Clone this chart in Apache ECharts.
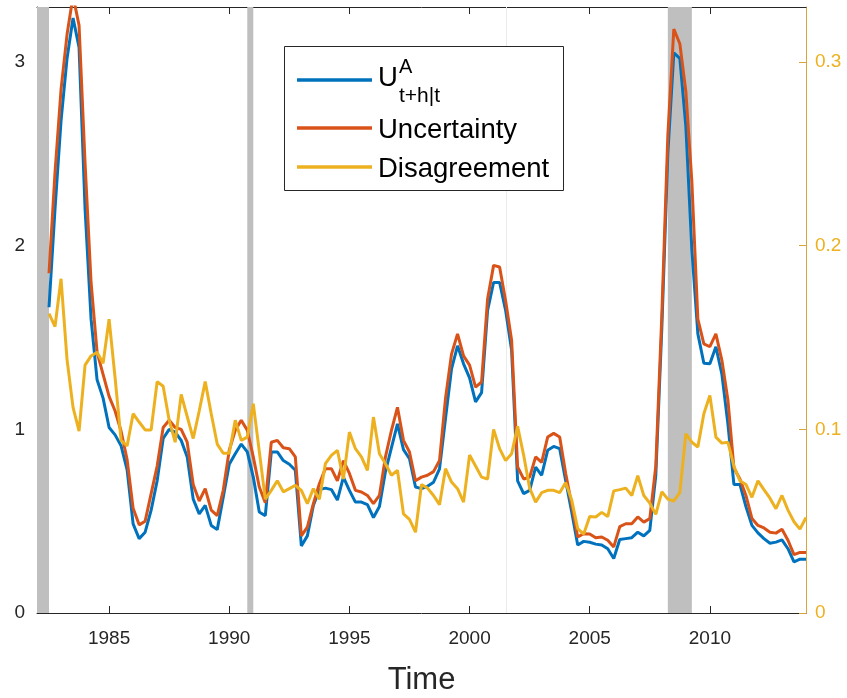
<!DOCTYPE html>
<html><head><meta charset="utf-8">
<script src="https://cdn.jsdelivr.net/npm/echarts@6/dist/echarts.min.js"></script>
<style>html,body{margin:0;padding:0;background:#fff}#c{width:847px;height:698px}</style>
</head><body><div id="c"></div>
<script>
const startQuarter = 1982.5;
const uA = [
 1.665, 2.20, 2.68, 3.02, 3.24, 3.08, 2.20, 1.60, 1.27, 1.17,
 1.01, 0.97, 0.91, 0.78, 0.485, 0.405, 0.44, 0.56, 0.72, 0.95,
 1.00, 0.985, 0.94, 0.85, 0.62, 0.54, 0.586, 0.477, 0.454, 0.63,
 0.81, 0.867, 0.92, 0.877, 0.74, 0.55, 0.53, 0.877, 0.877, 0.83,
 0.81, 0.777, 0.365, 0.42, 0.585, 0.672, 0.68, 0.672, 0.615, 0.74,
 0.668, 0.604, 0.604, 0.59, 0.52, 0.58, 0.77, 0.90, 1.03, 0.89,
 0.84, 0.686, 0.677, 0.69, 0.712, 0.785, 1.06, 1.33, 1.455, 1.357,
 1.28, 1.15, 1.20, 1.648, 1.80, 1.80, 1.648, 1.43, 0.72, 0.65,
 0.668, 0.795, 0.75, 0.886, 0.907, 0.895, 0.72, 0.55, 0.37, 0.39,
 0.385, 0.375, 0.37, 0.35, 0.297, 0.40, 0.405, 0.41, 0.44, 0.42,
 0.45, 0.75, 1.55, 2.50, 3.05, 3.02, 2.65, 1.98, 1.52, 1.36,
 1.357, 1.45, 1.30, 1.03, 0.70, 0.70, 0.58, 0.477, 0.436, 0.405,
 0.38, 0.386, 0.398, 0.35, 0.278, 0.293, 0.293
];
const uncertainty = [
 1.85, 2.40, 2.85, 3.15, 3.36, 3.20, 2.45, 1.80, 1.42, 1.30,
 1.18, 1.10, 0.99, 0.835, 0.57, 0.48, 0.50, 0.65, 0.80, 1.01,
 1.05, 1.01, 1.00, 0.93, 0.70, 0.61, 0.677, 0.56, 0.53, 0.668,
 0.886, 0.995, 1.05, 0.995, 0.85, 0.686, 0.60, 0.93, 0.94, 0.90,
 0.895, 0.85, 0.42, 0.468, 0.595, 0.704, 0.786, 0.786, 0.72, 0.83,
 0.76, 0.668, 0.659, 0.64, 0.595, 0.64, 0.85, 0.995, 1.12, 0.94,
 0.877, 0.72, 0.74, 0.75, 0.77, 0.83, 1.17, 1.41, 1.52, 1.40,
 1.35, 1.23, 1.258, 1.71, 1.893, 1.884, 1.70, 1.485, 0.795, 0.73,
 0.74, 0.85, 0.82, 0.958, 0.978, 0.958, 0.76, 0.59, 0.414, 0.432,
 0.43, 0.41, 0.414, 0.396, 0.36, 0.47, 0.486, 0.486, 0.523, 0.495,
 0.514, 0.80, 1.62, 2.60, 3.18, 3.10, 2.84, 2.35, 1.60, 1.466,
 1.45, 1.52, 1.376, 1.16, 0.79, 0.73, 0.64, 0.515, 0.477, 0.463,
 0.44, 0.435, 0.456, 0.396, 0.318, 0.33, 0.33
];
const disagreement = [
 0.163, 0.156, 0.182, 0.138, 0.112, 0.099, 0.135, 0.140, 0.142, 0.136,
 0.160, 0.128, 0.094, 0.091, 0.1085, 0.104, 0.0997, 0.0997, 0.126, 0.1235,
 0.105, 0.093, 0.119, 0.107, 0.095, 0.110, 0.126, 0.1085, 0.092, 0.087,
 0.087, 0.105, 0.094, 0.0958, 0.114, 0.088, 0.062, 0.0668, 0.072, 0.066,
 0.0677, 0.0695, 0.0668, 0.0595, 0.0677, 0.062, 0.0813, 0.0858, 0.0886, 0.073,
 0.0985, 0.0895, 0.085, 0.0777, 0.1067, 0.0867, 0.0813, 0.075, 0.0777, 0.054,
 0.051, 0.044, 0.070, 0.068, 0.064, 0.059, 0.0786, 0.0713, 0.0677, 0.0604,
 0.086, 0.080, 0.074, 0.073, 0.100, 0.0895, 0.083, 0.0867, 0.1016, 0.086,
 0.068, 0.0604, 0.0655, 0.0668, 0.0668, 0.0655, 0.071, 0.0615, 0.046, 0.043,
 0.0525, 0.0523, 0.0548, 0.0525, 0.0665, 0.0672, 0.068, 0.064, 0.0748, 0.064,
 0.0598, 0.0537, 0.066, 0.062, 0.061, 0.0655, 0.0976, 0.093, 0.0904, 0.1085,
 0.1185, 0.0958, 0.0925, 0.093, 0.080, 0.072, 0.070, 0.063, 0.072, 0.0672,
 0.0625, 0.0568, 0.064, 0.056, 0.0497, 0.0457, 0.052
];
const xTicks = [1985, 1990, 1995, 2000, 2005, 2010];
const leftTicks = [0, 1, 2, 3];
const rightTicks = [0, 0.1, 0.2, 0.3];
const recessions = [[1982.0, 1982.5], [1990.75, 1991.0], [2008.25, 2009.25]];
const faintLine = 2001.53;
const seriesNames = ['U', 'Uncertainty', 'Disagreement'];

const dates = uA.map((_, i) => startQuarter + i * 0.25);
const pair = arr => arr.map((v, i) => [dates[i], v]);

const FONT = 'Liberation Sans, Arial, Helvetica, sans-serif';
const DARK = '#262626';
const BLUE = '#0072BD', RED = '#D95319', YEL = '#EDB120';

const chart = echarts.init(document.getElementById('c'), null, {renderer: 'canvas'});
chart.setOption({
  animation: false,
  backgroundColor: '#ffffff',
  textStyle: {fontFamily: FONT},
  grid: {left: 37, right: 41, top: 7, bottom: 85, containLabel: false, outerBoundsMode: 'none'},
  xAxis: [{
    type: 'value', min: 1982, max: 2014, position: 'bottom',
    axisLine: {onZero: false, lineStyle: {color: DARK, width: 1}},
    axisTick: {inside: true, length: 7, customValues: xTicks, lineStyle: {color: DARK}},
    axisLabel: {customValues: xTicks, fontSize: 19, color: DARK, margin: 16, fontFamily: FONT,
      formatter: v => String(v)},
    splitLine: {show: false},
    name: 'Time', nameLocation: 'middle', nameGap: 52,
    nameTextStyle: {fontSize: 31, color: DARK, fontFamily: FONT}
  }, {
    type: 'value', min: 1982, max: 2014, position: 'top',
    axisLine: {onZero: false, lineStyle: {color: DARK, width: 1}},
    axisTick: {inside: true, length: 7, customValues: xTicks, lineStyle: {color: DARK}},
    axisLabel: {show: false},
    splitLine: {show: false}
  }],
  yAxis: [{
    type: 'value', min: 0, max: 3.3, position: 'left',
    axisLine: {show: true, onZero: false, lineStyle: {color: DARK, width: 1}},
    axisTick: {show: true, inside: true, length: 7, customValues: leftTicks, lineStyle: {color: DARK}},
    axisLabel: {customValues: leftTicks, fontSize: 19, color: DARK, margin: 12, fontFamily: FONT,
      formatter: v => String(v)},
    splitLine: {show: false}
  }, {
    type: 'value', min: 0, max: 0.33, position: 'right',
    axisLine: {show: true, onZero: false, lineStyle: {color: '#D9A53A', width: 1}},
    axisTick: {show: true, inside: true, length: 7, customValues: rightTicks, lineStyle: {color: '#D9A53A'}},
    axisLabel: {customValues: rightTicks, fontSize: 19, color: YEL, margin: 9, fontFamily: FONT,
      formatter: v => String(Math.round(v * 10) / 10)},
    splitLine: {show: false}
  }],
  series: [{
    name: 'recessions', type: 'line', xAxisIndex: 0, yAxisIndex: 0,
    data: [[1982, -1]], symbol: 'none', silent: true, z: 1,
    lineStyle: {opacity: 0},
    markArea: {silent: true, z: 1, itemStyle: {color: '#BFBFBF', opacity: 1},
      data: recessions.map(r => [{xAxis: r[0]}, {xAxis: r[1]}])},
    markLine: {silent: true, z: 1, symbol: 'none', label: {show: false},
      lineStyle: {color: '#EBEBEB', width: 1, type: 'solid'},
      data: [{xAxis: faintLine}]}
  }, {
    name: seriesNames[0], type: 'line', xAxisIndex: 0, yAxisIndex: 0,
    data: pair(uA), symbol: 'none', z: 3,
    lineStyle: {color: BLUE, width: 3}, itemStyle: {color: BLUE}
  }, {
    name: seriesNames[1], type: 'line', xAxisIndex: 0, yAxisIndex: 0,
    data: pair(uncertainty), symbol: 'none', z: 3,
    lineStyle: {color: RED, width: 3}, itemStyle: {color: RED}
  }, {
    name: seriesNames[2], type: 'line', xAxisIndex: 0, yAxisIndex: 1,
    data: pair(disagreement), symbol: 'none', z: 3,
    lineStyle: {color: YEL, width: 3}, itemStyle: {color: YEL}
  }],
  graphic: [
    {type: 'rect', z: 100, shape: {x: 284.5, y: 46.5, width: 279, height: 144},
      style: {fill: '#ffffff', stroke: DARK, lineWidth: 1}},
    {type: 'line', z: 101, shape: {x1: 297, y1: 80, x2: 372, y2: 80}, style: {stroke: BLUE, lineWidth: 3.5}},
    {type: 'line', z: 101, shape: {x1: 297, y1: 128, x2: 372, y2: 128}, style: {stroke: RED, lineWidth: 3.5}},
    {type: 'line', z: 101, shape: {x1: 297, y1: 167, x2: 372, y2: 167}, style: {stroke: YEL, lineWidth: 3.5}},
    {type: 'text', z: 101, x: 378, y: 78, style: {text: seriesNames[0], font: '27.5px ' + FONT, fill: '#000', verticalAlign: 'middle'}},
    {type: 'text', z: 101, x: 399, y: 67, style: {text: 'A', font: '20px ' + FONT, fill: '#000', verticalAlign: 'middle'}},
    {type: 'text', z: 101, x: 399, y: 96, style: {text: 't+h|t', font: '21px ' + FONT, fill: '#000', verticalAlign: 'middle'}},
    {type: 'text', z: 101, x: 378, y: 130, style: {text: seriesNames[1], font: '27.5px ' + FONT, fill: '#000', verticalAlign: 'middle'}},
    {type: 'text', z: 101, x: 378, y: 169, style: {text: seriesNames[2], font: '27.5px ' + FONT, fill: '#000', verticalAlign: 'middle'}}
  ]
});
</script>
</body></html>
